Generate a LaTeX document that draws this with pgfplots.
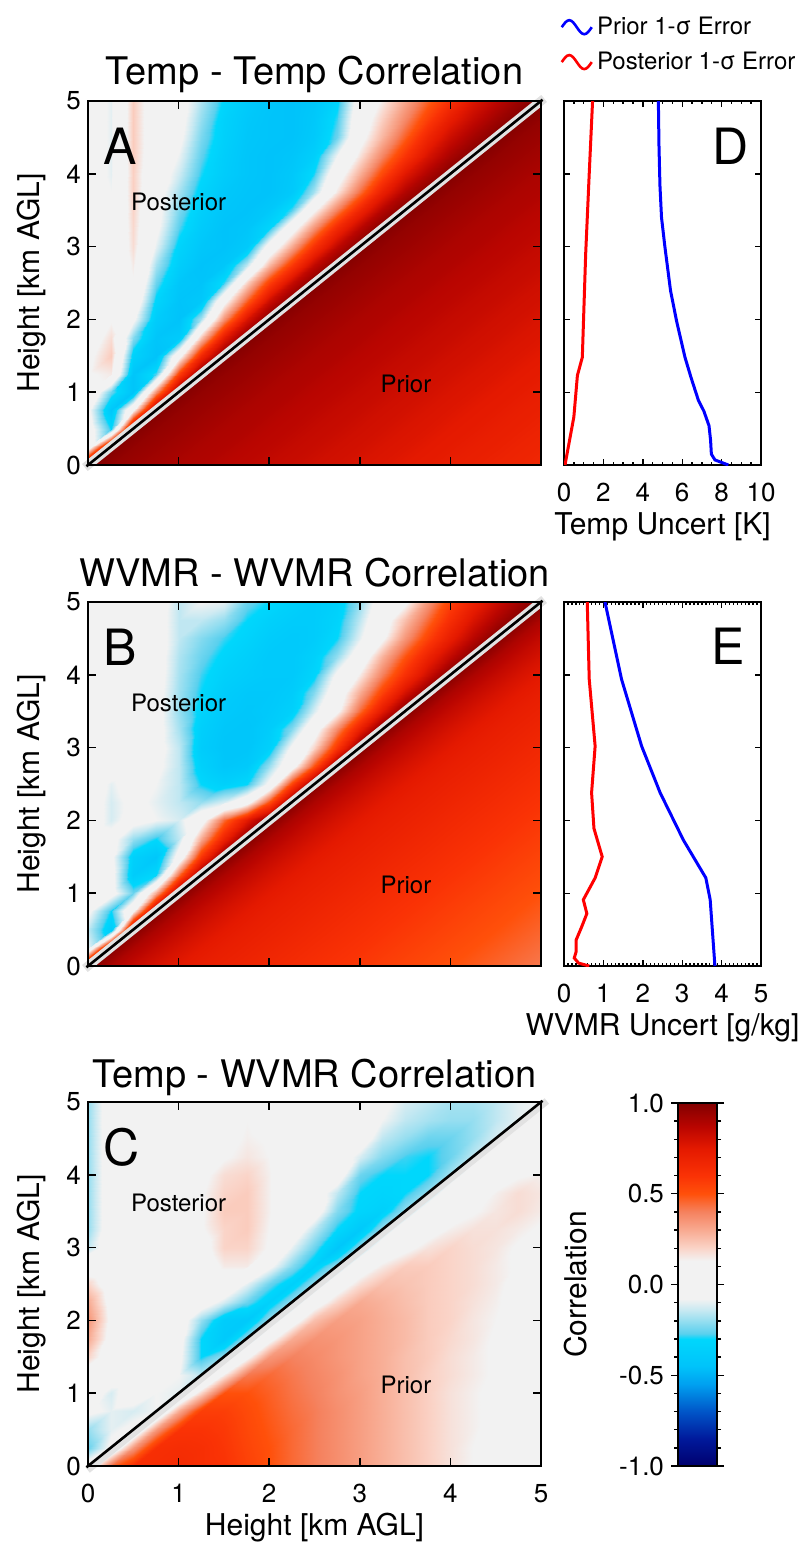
\documentclass[border=0pt]{standalone}
\usepackage{fontspec}
\setmainfont{TeX Gyre Heros}
\usepackage{pgfplots}
\usepackage{pgfplotstable}
\pgfplotsset{compat=1.18}
\definecolor{diaggray}{RGB}{226,226,226}
\tikzset{
  lab/.style={font=\fontsize{12}{14}\selectfont},
  letter/.style={font=\fontsize{25}{30}\selectfont},
}
\pgfplotsset{
  colormap={corr}{
    rgb255(0cm)=(0,0,110);
    rgb255(1.5cm)=(0,25,155);
    rgb255(3cm)=(0,85,200);
    rgb255(4.5cm)=(0,160,240);
    rgb255(5.5cm)=(0,195,250);
    rgb255(7cm)=(0,215,252);
    rgb255(7.3cm)=(90,208,238);
    rgb255(8cm)=(150,222,240);
    rgb255(8.6cm)=(200,233,242);
    rgb255(9.2cm)=(242,242,242);
    rgb255(11.3cm)=(242,242,242);
    rgb255(12cm)=(250,212,200);
    rgb255(13cm)=(248,170,145);
    rgb255(14cm)=(245,130,95);
    rgb255(15cm)=(255,80,10);
    rgb255(16cm)=(250,50,5);
    rgb255(17.5cm)=(228,25,0);
    rgb255(18.7cm)=(185,5,0);
    rgb255(20cm)=(130,0,0)
  },
  heat/.style={
    scale only axis, width=226.5pt, height=182pt, anchor=south west,
    xmin=0, xmax=5, ymin=0, ymax=5,
    xtick={0,...,5}, ytick={0,...,5},
    tick align=inside, tick pos=both, major tick length=4pt,
    every tick/.style={black, line width=0.8pt},
    axis line style={line width=1pt},
    colormap name=corr, point meta min=-1, point meta max=1,
    axis on top, clip=false,
    /pgf/number format/assume math mode=true,
    tick label style={font=\fontsize{13}{15}\selectfont},
    xticklabel style={yshift=-5.5pt},
    ylabel={Height [km AGL]},
    ylabel style={font=\fontsize{15}{18}\selectfont, at={([xshift=-28pt]axis description cs:0,0.5)}, anchor=center},
  },
  prof/.style={
    scale only axis, width=98.5pt, height=182pt, anchor=south west,
    ymin=0, ymax=5, ytick={1,2,3,4}, yticklabels={},
    tick align=inside, tick pos=both, major tick length=3pt, minor tick length=1.6pt,
    every tick/.style={black, line width=0.7pt},
    axis line style={line width=1pt},
    /pgf/number format/assume math mode=true,
    tick label style={font=\fontsize{13}{15}\selectfont},
    xticklabel style={yshift=-5.5pt},
    xlabel style={font=\fontsize{15}{18}\selectfont, at={([yshift=-31pt]axis description cs:0.5,0)}, anchor=center},
  },
  mapplot/.style={surf, shader=interp, mesh/rows=21, mesh/cols=21, point meta=explicit},
}

\pgfplotstableread[row sep=\\]{
x y c\\
0 5 0\\ 0.25 5 -0.1\\ 0.5 5 0.22\\ 0.75 5 0.03\\ 1 5 -0.02\\ 1.25 5 -0.17\\ 1.5 5 -0.31\\ 1.75 5 -0.39\\ 2 5 -0.43\\ 2.25 5 -0.45\\ 2.5 5 -0.42\\ 2.75 5 -0.32\\ 3 5 0\\ 3.25 5 0.15\\ 3.5 5 0.31\\ 3.75 5 0.47\\ 4 5 0.62\\ 4.25 5 0.77\\ 4.5 5 0.86\\ 4.75 5 0.94\\ 5 5 1\\
0 4.75 0\\ 0.25 4.75 -0.1\\ 0.5 4.75 0.22\\ 0.75 4.75 0.03\\ 1 4.75 -0.03\\ 1.25 4.75 -0.2\\ 1.5 4.75 -0.34\\ 1.75 4.75 -0.41\\ 2 4.75 -0.44\\ 2.25 4.75 -0.45\\ 2.5 4.75 -0.41\\ 2.75 4.75 -0.28\\ 3 4.75 0.04\\ 3.25 4.75 0.21\\ 3.5 4.75 0.38\\ 3.75 4.75 0.56\\ 4 4.75 0.73\\ 4.25 4.75 0.84\\ 4.5 4.75 0.93\\ 4.75 4.75 1\\ 5 4.75 0.96\\
0 4.5 0\\ 0.25 4.5 -0.1\\ 0.5 4.5 0.22\\ 0.75 4.5 0.03\\ 1 4.5 -0.05\\ 1.25 4.5 -0.23\\ 1.5 4.5 -0.35\\ 1.75 4.5 -0.42\\ 2 4.5 -0.44\\ 2.25 4.5 -0.45\\ 2.5 4.5 -0.4\\ 2.75 4.5 -0.25\\ 3 4.5 0.08\\ 3.25 4.5 0.27\\ 3.5 4.5 0.47\\ 3.75 4.5 0.68\\ 4 4.5 0.82\\ 4.25 4.5 0.92\\ 4.5 4.5 1\\ 4.75 4.5 0.96\\ 5 4.5 0.94\\
0 4.25 0\\ 0.25 4.25 -0.1\\ 0.5 4.25 0.22\\ 0.75 4.25 0.02\\ 1 4.25 -0.09\\ 1.25 4.25 -0.26\\ 1.5 4.25 -0.37\\ 1.75 4.25 -0.43\\ 2 4.25 -0.45\\ 2.25 4.25 -0.43\\ 2.5 4.25 -0.36\\ 2.75 4.25 -0.08\\ 3 4.25 0.17\\ 3.25 4.25 0.39\\ 3.5 4.25 0.6\\ 3.75 4.25 0.79\\ 4 4.25 0.91\\ 4.25 4.25 1\\ 4.5 4.25 0.96\\ 4.75 4.25 0.94\\ 5 4.25 0.92\\
0 4 0\\ 0.25 4 -0.1\\ 0.5 4 0.21\\ 0.75 4 0\\ 1 4 -0.13\\ 1.25 4 -0.29\\ 1.5 4 -0.38\\ 1.75 4 -0.43\\ 2 4 -0.45\\ 2.25 4 -0.41\\ 2.5 4 -0.29\\ 2.75 4 0.05\\ 3 4 0.29\\ 3.25 4 0.53\\ 3.5 4 0.76\\ 3.75 4 0.9\\ 4 4 1\\ 4.25 4 0.96\\ 4.5 4 0.94\\ 4.75 4 0.92\\ 5 4 0.9\\
0 3.75 0\\ 0.25 3.75 -0.08\\ 0.5 3.75 0.21\\ 0.75 3.75 -0.02\\ 1 3.75 -0.18\\ 1.25 3.75 -0.33\\ 1.5 3.75 -0.41\\ 1.75 3.75 -0.44\\ 2 3.75 -0.45\\ 2.25 3.75 -0.4\\ 2.5 3.75 -0.18\\ 2.75 3.75 0.16\\ 3 3.75 0.44\\ 3.25 3.75 0.71\\ 3.5 3.75 0.89\\ 3.75 3.75 1\\ 4 3.75 0.96\\ 4.25 3.75 0.94\\ 4.5 3.75 0.92\\ 4.75 3.75 0.9\\ 5 3.75 0.89\\
0 3.5 0\\ 0.25 3.5 -0.08\\ 0.5 3.5 0.2\\ 0.75 3.5 -0.03\\ 1 3.5 -0.23\\ 1.25 3.5 -0.36\\ 1.5 3.5 -0.43\\ 1.75 3.5 -0.45\\ 2 3.5 -0.41\\ 2.25 3.5 -0.27\\ 2.5 3.5 0.11\\ 2.75 3.5 0.4\\ 3 3.5 0.68\\ 3.25 3.5 0.88\\ 3.5 3.5 1\\ 3.75 3.5 0.96\\ 4 3.5 0.94\\ 4.25 3.5 0.92\\ 4.5 3.5 0.9\\ 4.75 3.5 0.89\\ 5 3.5 0.87\\
0 3.25 0\\ 0.25 3.25 -0.06\\ 0.5 3.25 0.19\\ 0.75 3.25 -0.05\\ 1 3.25 -0.27\\ 1.25 3.25 -0.39\\ 1.5 3.25 -0.45\\ 1.75 3.25 -0.43\\ 2 3.25 -0.32\\ 2.25 3.25 0.06\\ 2.5 3.25 0.36\\ 2.75 3.25 0.66\\ 3 3.25 0.87\\ 3.25 3.25 1\\ 3.5 3.25 0.96\\ 3.75 3.25 0.94\\ 4 3.25 0.92\\ 4.25 3.25 0.9\\ 4.5 3.25 0.89\\ 4.75 3.25 0.87\\ 5 3.25 0.86\\
0 3 0\\ 0.25 3 -0.05\\ 0.5 3 0.18\\ 0.75 3 -0.1\\ 1 3 -0.33\\ 1.25 3 -0.42\\ 1.5 3 -0.45\\ 1.75 3 -0.4\\ 2 3 0\\ 2.25 3 0.31\\ 2.5 3 0.62\\ 2.75 3 0.86\\ 3 3 1\\ 3.25 3 0.96\\ 3.5 3 0.94\\ 3.75 3 0.92\\ 4 3 0.9\\ 4.25 3 0.89\\ 4.5 3 0.87\\ 4.75 3 0.86\\ 5 3 0.84\\
0 2.75 0\\ 0.25 2.75 -0.04\\ 0.5 2.75 0.15\\ 0.75 2.75 -0.18\\ 1 2.75 -0.37\\ 1.25 2.75 -0.45\\ 1.5 2.75 -0.42\\ 1.75 2.75 -0.15\\ 2 2.75 0.26\\ 2.25 2.75 0.58\\ 2.5 2.75 0.85\\ 2.75 2.75 1\\ 3 2.75 0.96\\ 3.25 2.75 0.94\\ 3.5 2.75 0.92\\ 3.75 2.75 0.9\\ 4 2.75 0.89\\ 4.25 2.75 0.87\\ 4.5 2.75 0.86\\ 4.75 2.75 0.84\\ 5 2.75 0.83\\
0 2.5 0\\ 0.25 2.5 0\\ 0.5 2.5 0.12\\ 0.75 2.5 -0.25\\ 1 2.5 -0.42\\ 1.25 2.5 -0.44\\ 1.5 2.5 -0.28\\ 1.75 2.5 0.21\\ 2 2.5 0.56\\ 2.25 2.5 0.84\\ 2.5 2.5 1\\ 2.75 2.5 0.96\\ 3 2.5 0.94\\ 3.25 2.5 0.92\\ 3.5 2.5 0.9\\ 3.75 2.5 0.89\\ 4 2.5 0.87\\ 4.25 2.5 0.86\\ 4.5 2.5 0.84\\ 4.75 2.5 0.83\\ 5 2.5 0.81\\
0 2.25 0\\ 0.25 2.25 0.08\\ 0.5 2.25 0.05\\ 0.75 2.25 -0.32\\ 1 2.25 -0.44\\ 1.25 2.25 -0.41\\ 1.5 2.25 0.08\\ 1.75 2.25 0.47\\ 2 2.25 0.82\\ 2.25 2.25 1\\ 2.5 2.25 0.96\\ 2.75 2.25 0.94\\ 3 2.25 0.92\\ 3.25 2.25 0.9\\ 3.5 2.25 0.89\\ 3.75 2.25 0.87\\ 4 2.25 0.86\\ 4.25 2.25 0.84\\ 4.5 2.25 0.83\\ 4.75 2.25 0.81\\ 5 2.25 0.8\\
0 2 0.05\\ 0.25 2 0.12\\ 0.5 2 -0.05\\ 0.75 2 -0.38\\ 1 2 -0.45\\ 1.25 2 -0.18\\ 1.5 2 0.36\\ 1.75 2 0.78\\ 2 2 1\\ 2.25 2 0.96\\ 2.5 2 0.94\\ 2.75 2 0.92\\ 3 2 0.9\\ 3.25 2 0.89\\ 3.5 2 0.87\\ 3.75 2 0.86\\ 4 2 0.84\\ 4.25 2 0.83\\ 4.5 2 0.81\\ 4.75 2 0.8\\ 5 2 0.78\\
0 1.75 0.05\\ 0.25 1.75 0.18\\ 0.5 1.75 -0.22\\ 0.75 1.75 -0.43\\ 1 1.75 -0.39\\ 1.25 1.75 0.24\\ 1.5 1.75 0.75\\ 1.75 1.75 1\\ 2 1.75 0.96\\ 2.25 1.75 0.94\\ 2.5 1.75 0.92\\ 2.75 1.75 0.9\\ 3 1.75 0.89\\ 3.25 1.75 0.87\\ 3.5 1.75 0.86\\ 3.75 1.75 0.84\\ 4 1.75 0.83\\ 4.25 1.75 0.81\\ 4.5 1.75 0.8\\ 4.75 1.75 0.78\\ 5 1.75 0.77\\
0 1.5 0.1\\ 0.25 1.5 0.22\\ 0.5 1.5 -0.34\\ 0.75 1.5 -0.45\\ 1 1.5 0.07\\ 1.25 1.5 0.67\\ 1.5 1.5 1\\ 1.75 1.5 0.96\\ 2 1.5 0.94\\ 2.25 1.5 0.92\\ 2.5 1.5 0.9\\ 2.75 1.5 0.89\\ 3 1.5 0.87\\ 3.25 1.5 0.86\\ 3.5 1.5 0.84\\ 3.75 1.5 0.83\\ 4 1.5 0.81\\ 4.25 1.5 0.8\\ 4.5 1.5 0.78\\ 4.75 1.5 0.77\\ 5 1.5 0.75\\
0 1.25 0.12\\ 0.25 1.25 0.15\\ 0.5 1.25 -0.43\\ 0.75 1.25 -0.27\\ 1 1.25 0.56\\ 1.25 1.25 1\\ 1.5 1.25 0.96\\ 1.75 1.25 0.94\\ 2 1.25 0.92\\ 2.25 1.25 0.9\\ 2.5 1.25 0.89\\ 2.75 1.25 0.87\\ 3 1.25 0.86\\ 3.25 1.25 0.84\\ 3.5 1.25 0.83\\ 3.75 1.25 0.81\\ 4 1.25 0.8\\ 4.25 1.25 0.78\\ 4.5 1.25 0.77\\ 4.75 1.25 0.75\\ 5 1.25 0.74\\
0 1 0.1\\ 0.25 1 -0.25\\ 0.5 1 -0.44\\ 0.75 1 0.36\\ 1 1 1\\ 1.25 1 0.96\\ 1.5 1 0.94\\ 1.75 1 0.92\\ 2 1 0.9\\ 2.25 1 0.89\\ 2.5 1 0.87\\ 2.75 1 0.86\\ 3 1 0.84\\ 3.25 1 0.83\\ 3.5 1 0.81\\ 3.75 1 0.8\\ 4 1 0.78\\ 4.25 1 0.77\\ 4.5 1 0.75\\ 4.75 1 0.74\\ 5 1 0.72\\
0 0.75 -0.05\\ 0.25 0.75 -0.42\\ 0.5 0.75 0.1\\ 0.75 0.75 1\\ 1 0.75 0.96\\ 1.25 0.75 0.94\\ 1.5 0.75 0.92\\ 1.75 0.75 0.9\\ 2 0.75 0.89\\ 2.25 0.75 0.87\\ 2.5 0.75 0.86\\ 2.75 0.75 0.84\\ 3 0.75 0.83\\ 3.25 0.75 0.81\\ 3.5 0.75 0.8\\ 3.75 0.75 0.78\\ 4 0.75 0.77\\ 4.25 0.75 0.75\\ 4.5 0.75 0.74\\ 4.75 0.75 0.72\\ 5 0.75 0.71\\
0 0.5 0\\ 0.25 0.5 -0.3\\ 0.5 0.5 1\\ 0.75 0.5 0.96\\ 1 0.5 0.94\\ 1.25 0.5 0.92\\ 1.5 0.5 0.9\\ 1.75 0.5 0.89\\ 2 0.5 0.87\\ 2.25 0.5 0.86\\ 2.5 0.5 0.84\\ 2.75 0.5 0.83\\ 3 0.5 0.81\\ 3.25 0.5 0.8\\ 3.5 0.5 0.78\\ 3.75 0.5 0.77\\ 4 0.5 0.75\\ 4.25 0.5 0.74\\ 4.5 0.5 0.72\\ 4.75 0.5 0.71\\ 5 0.5 0.69\\
0 0.25 0\\ 0.25 0.25 1\\ 0.5 0.25 0.96\\ 0.75 0.25 0.94\\ 1 0.25 0.92\\ 1.25 0.25 0.9\\ 1.5 0.25 0.89\\ 1.75 0.25 0.87\\ 2 0.25 0.86\\ 2.25 0.25 0.84\\ 2.5 0.25 0.83\\ 2.75 0.25 0.81\\ 3 0.25 0.8\\ 3.25 0.25 0.78\\ 3.5 0.25 0.77\\ 3.75 0.25 0.75\\ 4 0.25 0.74\\ 4.25 0.25 0.72\\ 4.5 0.25 0.71\\ 4.75 0.25 0.69\\ 5 0.25 0.68\\
0 0 1\\ 0.25 0 0.96\\ 0.5 0 0.94\\ 0.75 0 0.92\\ 1 0 0.9\\ 1.25 0 0.89\\ 1.5 0 0.87\\ 1.75 0 0.86\\ 2 0 0.84\\ 2.25 0 0.83\\ 2.5 0 0.81\\ 2.75 0 0.8\\ 3 0 0.78\\ 3.25 0 0.77\\ 3.5 0 0.75\\ 3.75 0 0.74\\ 4 0 0.72\\ 4.25 0 0.71\\ 4.5 0 0.69\\ 4.75 0 0.68\\ 5 0 0.66\\
}\tabA

\pgfplotstableread[row sep=\\]{
x y c\\
0 5 0\\ 0.25 5 0\\ 0.5 5 0\\ 0.75 5 0\\ 1 5 -0.15\\ 1.25 5 -0.08\\ 1.5 5 -0.1\\ 1.75 5 -0.25\\ 2 5 -0.3\\ 2.25 5 -0.35\\ 2.5 5 -0.38\\ 2.75 5 -0.35\\ 3 5 -0.2\\ 3.25 5 0\\ 3.5 5 0.1\\ 3.75 5 0.35\\ 4 5 0.55\\ 4.25 5 0.7\\ 4.5 5 0.82\\ 4.75 5 0.92\\ 5 5 1\\
0 4.75 0\\ 0.25 4.75 0\\ 0.5 4.75 0\\ 0.75 4.75 -0.02\\ 1 4.75 -0.15\\ 1.25 4.75 -0.15\\ 1.5 4.75 -0.2\\ 1.75 4.75 -0.3\\ 2 4.75 -0.35\\ 2.25 4.75 -0.38\\ 2.5 4.75 -0.38\\ 2.75 4.75 -0.33\\ 3 4.75 -0.15\\ 3.25 4.75 0.05\\ 3.5 4.75 0.25\\ 3.75 4.75 0.45\\ 4 4.75 0.63\\ 4.25 4.75 0.78\\ 4.5 4.75 0.9\\ 4.75 4.75 1\\ 5 4.75 0.9\\
0 4.5 0\\ 0.25 4.5 0\\ 0.5 4.5 0\\ 0.75 4.5 -0.02\\ 1 4.5 -0.15\\ 1.25 4.5 -0.22\\ 1.5 4.5 -0.28\\ 1.75 4.5 -0.33\\ 2 4.5 -0.38\\ 2.25 4.5 -0.4\\ 2.5 4.5 -0.38\\ 2.75 4.5 -0.3\\ 3 4.5 -0.1\\ 3.25 4.5 0.1\\ 3.5 4.5 0.35\\ 3.75 4.5 0.55\\ 4 4.5 0.72\\ 4.25 4.5 0.87\\ 4.5 4.5 1\\ 4.75 4.5 0.9\\ 5 4.5 0.84\\
0 4.25 0\\ 0.25 4.25 0\\ 0.5 4.25 0\\ 0.75 4.25 -0.02\\ 1 4.25 -0.17\\ 1.25 4.25 -0.25\\ 1.5 4.25 -0.32\\ 1.75 4.25 -0.36\\ 2 4.25 -0.4\\ 2.25 4.25 -0.4\\ 2.5 4.25 -0.35\\ 2.75 4.25 -0.2\\ 3 4.25 0.02\\ 3.25 4.25 0.28\\ 3.5 4.25 0.5\\ 3.75 4.25 0.7\\ 4 4.25 0.85\\ 4.25 4.25 1\\ 4.5 4.25 0.9\\ 4.75 4.25 0.84\\ 5 4.25 0.79\\
0 4 0\\ 0.25 4 0\\ 0.5 4 0\\ 0.75 4 -0.02\\ 1 4 -0.18\\ 1.25 4 -0.28\\ 1.5 4 -0.35\\ 1.75 4 -0.38\\ 2 4 -0.4\\ 2.25 4 -0.4\\ 2.5 4 -0.32\\ 2.75 4 -0.05\\ 3 4 0.15\\ 3.25 4 0.4\\ 3.5 4 0.62\\ 3.75 4 0.82\\ 4 4 1\\ 4.25 4 0.9\\ 4.5 4 0.84\\ 4.75 4 0.79\\ 5 4 0.75\\
0 3.75 0\\ 0.25 3.75 0\\ 0.5 3.75 0\\ 0.75 3.75 -0.03\\ 1 3.75 -0.19\\ 1.25 3.75 -0.3\\ 1.5 3.75 -0.38\\ 1.75 3.75 -0.41\\ 2 3.75 -0.41\\ 2.25 3.75 -0.38\\ 2.5 3.75 -0.22\\ 2.75 3.75 0.03\\ 3 3.75 0.3\\ 3.25 3.75 0.55\\ 3.5 3.75 0.8\\ 3.75 3.75 1\\ 4 3.75 0.9\\ 4.25 3.75 0.84\\ 4.5 3.75 0.79\\ 4.75 3.75 0.75\\ 5 3.75 0.72\\
0 3.5 0\\ 0.25 3.5 0\\ 0.5 3.5 0\\ 0.75 3.5 -0.03\\ 1 3.5 -0.2\\ 1.25 3.5 -0.33\\ 1.5 3.5 -0.4\\ 1.75 3.5 -0.42\\ 2 3.5 -0.4\\ 2.25 3.5 -0.35\\ 2.5 3.5 -0.12\\ 2.75 3.5 0.1\\ 3 3.5 0.45\\ 3.25 3.5 0.75\\ 3.5 3.5 1\\ 3.75 3.5 0.9\\ 4 3.5 0.84\\ 4.25 3.5 0.79\\ 4.5 3.5 0.75\\ 4.75 3.5 0.72\\ 5 3.5 0.7\\
0 3.25 0\\ 0.25 3.25 0\\ 0.5 3.25 0\\ 0.75 3.25 -0.03\\ 1 3.25 -0.18\\ 1.25 3.25 -0.36\\ 1.5 3.25 -0.42\\ 1.75 3.25 -0.43\\ 2 3.25 -0.38\\ 2.25 3.25 -0.22\\ 2.5 3.25 0.05\\ 2.75 3.25 0.38\\ 3 3.25 0.72\\ 3.25 3.25 1\\ 3.5 3.25 0.9\\ 3.75 3.25 0.84\\ 4 3.25 0.79\\ 4.25 3.25 0.75\\ 4.5 3.25 0.72\\ 4.75 3.25 0.7\\ 5 3.25 0.68\\
0 3 0\\ 0.25 3 0\\ 0.5 3 0\\ 0.75 3 -0.03\\ 1 3 -0.15\\ 1.25 3 -0.38\\ 1.5 3 -0.43\\ 1.75 3 -0.43\\ 2 3 -0.35\\ 2.25 3 -0.05\\ 2.5 3 0.2\\ 2.75 3 0.6\\ 3 3 1\\ 3.25 3 0.9\\ 3.5 3 0.84\\ 3.75 3 0.79\\ 4 3 0.75\\ 4.25 3 0.72\\ 4.5 3 0.7\\ 4.75 3 0.68\\ 5 3 0.66\\
0 2.75 0\\ 0.25 2.75 0\\ 0.5 2.75 0\\ 0.75 2.75 -0.05\\ 1 2.75 -0.15\\ 1.25 2.75 -0.35\\ 1.5 2.75 -0.42\\ 1.75 2.75 -0.4\\ 2 2.75 -0.2\\ 2.25 2.75 0.05\\ 2.5 2.75 0.5\\ 2.75 2.75 1\\ 3 2.75 0.9\\ 3.25 2.75 0.84\\ 3.5 2.75 0.79\\ 3.75 2.75 0.75\\ 4 2.75 0.72\\ 4.25 2.75 0.7\\ 4.5 2.75 0.68\\ 4.75 2.75 0.66\\ 5 2.75 0.64\\
0 2.5 0\\ 0.25 2.5 -0.1\\ 0.5 2.5 -0.02\\ 0.75 2.5 -0.08\\ 1 2.5 -0.15\\ 1.25 2.5 -0.3\\ 1.5 2.5 -0.35\\ 1.75 2.5 -0.3\\ 2 2.5 -0.05\\ 2.25 2.5 0.55\\ 2.5 2.5 1\\ 2.75 2.5 0.9\\ 3 2.5 0.84\\ 3.25 2.5 0.79\\ 3.5 2.5 0.75\\ 3.75 2.5 0.72\\ 4 2.5 0.7\\ 4.25 2.5 0.68\\ 4.5 2.5 0.66\\ 4.75 2.5 0.64\\ 5 2.5 0.62\\
0 2.25 0\\ 0.25 2.25 -0.12\\ 0.5 2.25 -0.05\\ 0.75 2.25 -0.1\\ 1 2.25 -0.15\\ 1.25 2.25 -0.2\\ 1.5 2.25 -0.12\\ 1.75 2.25 0.05\\ 2 2.25 0.5\\ 2.25 2.25 1\\ 2.5 2.25 0.9\\ 2.75 2.25 0.84\\ 3 2.25 0.79\\ 3.25 2.25 0.75\\ 3.5 2.25 0.72\\ 3.75 2.25 0.7\\ 4 2.25 0.68\\ 4.25 2.25 0.66\\ 4.5 2.25 0.64\\ 4.75 2.25 0.62\\ 5 2.25 0.6\\
0 2 0\\ 0.25 2 -0.12\\ 0.5 2 -0.03\\ 0.75 2 -0.08\\ 1 2 -0.12\\ 1.25 2 0.05\\ 1.5 2 0.45\\ 1.75 2 0.75\\ 2 2 1\\ 2.25 2 0.9\\ 2.5 2 0.84\\ 2.75 2 0.79\\ 3 2 0.75\\ 3.25 2 0.72\\ 3.5 2 0.7\\ 3.75 2 0.68\\ 4 2 0.66\\ 4.25 2 0.64\\ 4.5 2 0.62\\ 4.75 2 0.6\\ 5 2 0.58\\
0 1.75 0\\ 0.25 1.75 -0.03\\ 0.5 1.75 -0.2\\ 0.75 1.75 -0.3\\ 1 1.75 -0.15\\ 1.25 1.75 0.3\\ 1.5 1.75 0.7\\ 1.75 1.75 1\\ 2 1.75 0.9\\ 2.25 1.75 0.84\\ 2.5 1.75 0.79\\ 2.75 1.75 0.75\\ 3 1.75 0.72\\ 3.25 1.75 0.7\\ 3.5 1.75 0.68\\ 3.75 1.75 0.66\\ 4 1.75 0.64\\ 4.25 1.75 0.62\\ 4.5 1.75 0.6\\ 4.75 1.75 0.58\\ 5 1.75 0.56\\
0 1.5 0\\ 0.25 1.5 -0.05\\ 0.5 1.5 -0.35\\ 0.75 1.5 -0.42\\ 1 1.5 0\\ 1.25 1.5 0.6\\ 1.5 1.5 1\\ 1.75 1.5 0.9\\ 2 1.5 0.84\\ 2.25 1.5 0.79\\ 2.5 1.5 0.75\\ 2.75 1.5 0.72\\ 3 1.5 0.7\\ 3.25 1.5 0.68\\ 3.5 1.5 0.66\\ 3.75 1.5 0.64\\ 4 1.5 0.62\\ 4.25 1.5 0.6\\ 4.5 1.5 0.58\\ 4.75 1.5 0.56\\ 5 1.5 0.54\\
0 1.25 0\\ 0.25 1.25 -0.03\\ 0.5 1.25 -0.38\\ 0.75 1.25 -0.3\\ 1 1.25 0.45\\ 1.25 1.25 1\\ 1.5 1.25 0.9\\ 1.75 1.25 0.84\\ 2 1.25 0.79\\ 2.25 1.25 0.75\\ 2.5 1.25 0.72\\ 2.75 1.25 0.7\\ 3 1.25 0.68\\ 3.25 1.25 0.66\\ 3.5 1.25 0.64\\ 3.75 1.25 0.62\\ 4 1.25 0.6\\ 4.25 1.25 0.58\\ 4.5 1.25 0.56\\ 4.75 1.25 0.54\\ 5 1.25 0.52\\
0 1 0\\ 0.25 1 -0.02\\ 0.5 1 -0.25\\ 0.75 1 0.3\\ 1 1 1\\ 1.25 1 0.9\\ 1.5 1 0.84\\ 1.75 1 0.79\\ 2 1 0.75\\ 2.25 1 0.72\\ 2.5 1 0.7\\ 2.75 1 0.68\\ 3 1 0.66\\ 3.25 1 0.64\\ 3.5 1 0.62\\ 3.75 1 0.6\\ 4 1 0.58\\ 4.25 1 0.56\\ 4.5 1 0.54\\ 4.75 1 0.52\\ 5 1 0.5\\
0 0.75 -0.05\\ 0.25 0.75 -0.3\\ 0.5 0.75 0.1\\ 0.75 0.75 1\\ 1 0.75 0.9\\ 1.25 0.75 0.84\\ 1.5 0.75 0.79\\ 1.75 0.75 0.75\\ 2 0.75 0.72\\ 2.25 0.75 0.7\\ 2.5 0.75 0.68\\ 2.75 0.75 0.66\\ 3 0.75 0.64\\ 3.25 0.75 0.62\\ 3.5 0.75 0.6\\ 3.75 0.75 0.58\\ 4 0.75 0.56\\ 4.25 0.75 0.54\\ 4.5 0.75 0.52\\ 4.75 0.75 0.5\\ 5 0.75 0.48\\
0 0.5 -0.15\\ 0.25 0.5 -0.38\\ 0.5 0.5 1\\ 0.75 0.5 0.9\\ 1 0.5 0.84\\ 1.25 0.5 0.79\\ 1.5 0.5 0.75\\ 1.75 0.5 0.72\\ 2 0.5 0.7\\ 2.25 0.5 0.68\\ 2.5 0.5 0.66\\ 2.75 0.5 0.64\\ 3 0.5 0.62\\ 3.25 0.5 0.6\\ 3.5 0.5 0.58\\ 3.75 0.5 0.56\\ 4 0.5 0.54\\ 4.25 0.5 0.52\\ 4.5 0.5 0.5\\ 4.75 0.5 0.48\\ 5 0.5 0.46\\
0 0.25 -0.1\\ 0.25 0.25 1\\ 0.5 0.25 0.9\\ 0.75 0.25 0.84\\ 1 0.25 0.79\\ 1.25 0.25 0.75\\ 1.5 0.25 0.72\\ 1.75 0.25 0.7\\ 2 0.25 0.68\\ 2.25 0.25 0.66\\ 2.5 0.25 0.64\\ 2.75 0.25 0.62\\ 3 0.25 0.6\\ 3.25 0.25 0.58\\ 3.5 0.25 0.56\\ 3.75 0.25 0.54\\ 4 0.25 0.52\\ 4.25 0.25 0.5\\ 4.5 0.25 0.48\\ 4.75 0.25 0.46\\ 5 0.25 0.44\\
0 0 1\\ 0.25 0 0.9\\ 0.5 0 0.84\\ 0.75 0 0.79\\ 1 0 0.75\\ 1.25 0 0.72\\ 1.5 0 0.7\\ 1.75 0 0.68\\ 2 0 0.66\\ 2.25 0 0.64\\ 2.5 0 0.62\\ 2.75 0 0.6\\ 3 0 0.58\\ 3.25 0 0.56\\ 3.5 0 0.54\\ 3.75 0 0.52\\ 4 0 0.5\\ 4.25 0 0.48\\ 4.5 0 0.46\\ 4.75 0 0.44\\ 5 0 0.42\\
}\tabB

\pgfplotstableread[row sep=\\]{
x y c\\
0 5 -0.2\\ 0.25 5 0\\ 0.5 5 0\\ 0.75 5 0\\ 1 5 0\\ 1.25 5 0.02\\ 1.5 5 0.05\\ 1.75 5 0.1\\ 2 5 0.1\\ 2.25 5 0.02\\ 2.5 5 0\\ 2.75 5 0\\ 3 5 0\\ 3.25 5 -0.05\\ 3.5 5 -0.12\\ 3.75 5 -0.15\\ 4 5 -0.18\\ 4.25 5 -0.18\\ 4.5 5 -0.15\\ 4.75 5 -0.1\\ 5 5 -0.08\\
0 4.75 -0.2\\ 0.25 4.75 0\\ 0.5 4.75 0\\ 0.75 4.75 0\\ 1 4.75 0\\ 1.25 4.75 0.03\\ 1.5 4.75 0.08\\ 1.75 4.75 0.13\\ 2 4.75 0.1\\ 2.25 4.75 0.02\\ 2.5 4.75 0\\ 2.75 4.75 0\\ 3 4.75 0\\ 3.25 4.75 -0.08\\ 3.5 4.75 -0.15\\ 3.75 4.75 -0.18\\ 4 4.75 -0.2\\ 4.25 4.75 -0.2\\ 4.5 4.75 -0.15\\ 4.75 4.75 -0.1\\ 5 4.75 0.05\\
0 4.5 -0.2\\ 0.25 4.5 0\\ 0.5 4.5 0\\ 0.75 4.5 0\\ 1 4.5 0\\ 1.25 4.5 0.05\\ 1.5 4.5 0.1\\ 1.75 4.5 0.14\\ 2 4.5 0.12\\ 2.25 4.5 0.03\\ 2.5 4.5 0\\ 2.75 4.5 0\\ 3 4.5 0\\ 3.25 4.5 -0.15\\ 3.5 4.5 -0.2\\ 3.75 4.5 -0.25\\ 4 4.5 -0.25\\ 4.25 4.5 -0.2\\ 4.5 4.5 -0.12\\ 4.75 4.5 0.03\\ 5 4.5 0.06\\
0 4.25 -0.2\\ 0.25 4.25 0\\ 0.5 4.25 0\\ 0.75 4.25 0\\ 1 4.25 0\\ 1.25 4.25 0.08\\ 1.5 4.25 0.12\\ 1.75 4.25 0.16\\ 2 4.25 0.13\\ 2.25 4.25 0.03\\ 2.5 4.25 0\\ 2.75 4.25 0\\ 3 4.25 -0.12\\ 3.25 4.25 -0.22\\ 3.5 4.25 -0.28\\ 3.75 4.25 -0.3\\ 4 4.25 -0.25\\ 4.25 4.25 -0.15\\ 4.5 4.25 0.03\\ 4.75 4.25 0.06\\ 5 4.25 0.1\\
0 4 -0.2\\ 0.25 4 0\\ 0.5 4 0\\ 0.75 4 0\\ 1 4 0\\ 1.25 4 0.1\\ 1.5 4 0.18\\ 1.75 4 0.2\\ 2 4 0.14\\ 2.25 4 0.03\\ 2.5 4 0\\ 2.75 4 0\\ 3 4 -0.25\\ 3.25 4 -0.3\\ 3.5 4 -0.3\\ 3.75 4 -0.3\\ 4 4 -0.18\\ 4.25 4 0.03\\ 4.5 4 0.06\\ 4.75 4 0.12\\ 5 4 0.14\\
0 3.75 -0.2\\ 0.25 3.75 0\\ 0.5 3.75 0\\ 0.75 3.75 0\\ 1 3.75 0\\ 1.25 3.75 0.12\\ 1.5 3.75 0.2\\ 1.75 3.75 0.22\\ 2 3.75 0.14\\ 2.25 3.75 0.02\\ 2.5 3.75 0\\ 2.75 3.75 -0.15\\ 3 3.75 -0.3\\ 3.25 3.75 -0.32\\ 3.5 3.75 -0.3\\ 3.75 3.75 -0.2\\ 4 3.75 0.03\\ 4.25 3.75 0.06\\ 4.5 3.75 0.14\\ 4.75 3.75 0.18\\ 5 3.75 0.16\\
0 3.5 -0.2\\ 0.25 3.5 0\\ 0.5 3.5 0\\ 0.75 3.5 0\\ 1 3.5 0\\ 1.25 3.5 0.12\\ 1.5 3.5 0.22\\ 1.75 3.5 0.22\\ 2 3.5 0.14\\ 2.25 3.5 0.02\\ 2.5 3.5 0\\ 2.75 3.5 -0.22\\ 3 3.5 -0.32\\ 3.25 3.5 -0.35\\ 3.5 3.5 -0.2\\ 3.75 3.5 0.03\\ 4 3.5 0.06\\ 4.25 3.5 0.12\\ 4.5 3.5 0.16\\ 4.75 3.5 0.18\\ 5 3.5 0.15\\
0 3.25 -0.2\\ 0.25 3.25 0\\ 0.5 3.25 0\\ 0.75 3.25 0\\ 1 3.25 0\\ 1.25 3.25 0.12\\ 1.5 3.25 0.2\\ 1.75 3.25 0.22\\ 2 3.25 0.13\\ 2.25 3.25 0.02\\ 2.5 3.25 -0.15\\ 2.75 3.25 -0.3\\ 3 3.25 -0.4\\ 3.25 3.25 -0.2\\ 3.5 3.25 0.03\\ 3.75 3.25 0.08\\ 4 3.25 0.14\\ 4.25 3.25 0.17\\ 4.5 3.25 0.17\\ 4.75 3.25 0.15\\ 5 3.25 0.12\\
0 3 -0.15\\ 0.25 3 0\\ 0.5 3 0\\ 0.75 3 0\\ 1 3 0\\ 1.25 3 0.08\\ 1.5 3 0.2\\ 1.75 3 0.2\\ 2 3 0.12\\ 2.25 3 -0.1\\ 2.5 3 -0.25\\ 2.75 3 -0.42\\ 3 3 -0.2\\ 3.25 3 0.03\\ 3.5 3 0.1\\ 3.75 3 0.17\\ 4 3 0.2\\ 4.25 3 0.18\\ 4.5 3 0.16\\ 4.75 3 0.12\\ 5 3 0.1\\
0 2.75 0.05\\ 0.25 2.75 0\\ 0.5 2.75 0\\ 0.75 2.75 0\\ 1 2.75 0\\ 1.25 2.75 0.05\\ 1.5 2.75 0.15\\ 1.75 2.75 0.15\\ 2 2.75 -0.05\\ 2.25 2.75 -0.22\\ 2.5 2.75 -0.35\\ 2.75 2.75 -0.2\\ 3 2.75 0.05\\ 3.25 2.75 0.15\\ 3.5 2.75 0.22\\ 3.75 2.75 0.22\\ 4 2.75 0.2\\ 4.25 2.75 0.18\\ 4.5 2.75 0.15\\ 4.75 2.75 0.12\\ 5 2.75 0.08\\
0 2.5 0.2\\ 0.25 2.5 0.05\\ 0.5 2.5 0\\ 0.75 2.5 0\\ 1 2.5 0\\ 1.25 2.5 0.02\\ 1.5 2.5 0.05\\ 1.75 2.5 -0.1\\ 2 2.5 -0.25\\ 2.25 2.5 -0.35\\ 2.5 2.5 -0.2\\ 2.75 2.5 0.05\\ 3 2.5 0.18\\ 3.25 2.5 0.25\\ 3.5 2.5 0.24\\ 3.75 2.5 0.22\\ 4 2.5 0.2\\ 4.25 2.5 0.18\\ 4.5 2.5 0.15\\ 4.75 2.5 0.1\\ 5 2.5 0.07\\
0 2.25 0.3\\ 0.25 2.25 0.08\\ 0.5 2.25 0\\ 0.75 2.25 0\\ 1 2.25 0\\ 1.25 2.25 0\\ 1.5 2.25 -0.12\\ 1.75 2.25 -0.25\\ 2 2.25 -0.35\\ 2.25 2.25 -0.2\\ 2.5 2.25 0.05\\ 2.75 2.25 0.2\\ 3 2.25 0.3\\ 3.25 2.25 0.28\\ 3.5 2.25 0.25\\ 3.75 2.25 0.22\\ 4 2.25 0.2\\ 4.25 2.25 0.17\\ 4.5 2.25 0.14\\ 4.75 2.25 0.1\\ 5 2.25 0.06\\
0 2 0.35\\ 0.25 2 0.1\\ 0.5 2 0\\ 0.75 2 0\\ 1 2 0\\ 1.25 2 -0.2\\ 1.5 2 -0.38\\ 1.75 2 -0.4\\ 2 2 -0.2\\ 2.25 2 0.05\\ 2.5 2 0.25\\ 2.75 2 0.33\\ 3 2 0.32\\ 3.25 2 0.29\\ 3.5 2 0.26\\ 3.75 2 0.22\\ 4 2 0.2\\ 4.25 2 0.16\\ 4.5 2 0.13\\ 4.75 2 0.09\\ 5 2 0.06\\
0 1.75 0.3\\ 0.25 1.75 0.08\\ 0.5 1.75 0\\ 0.75 1.75 0\\ 1 1.75 -0.03\\ 1.25 1.75 -0.3\\ 1.5 1.75 -0.4\\ 1.75 1.75 -0.2\\ 2 1.75 0.08\\ 2.25 1.75 0.3\\ 2.5 1.75 0.36\\ 2.75 1.75 0.35\\ 3 1.75 0.32\\ 3.25 1.75 0.29\\ 3.5 1.75 0.26\\ 3.75 1.75 0.22\\ 4 1.75 0.19\\ 4.25 1.75 0.16\\ 4.5 1.75 0.12\\ 4.75 1.75 0.08\\ 5 1.75 0.05\\
0 1.5 0.2\\ 0.25 1.5 0.05\\ 0.5 1.5 0\\ 0.75 1.5 0.1\\ 1 1.5 -0.05\\ 1.25 1.5 -0.3\\ 1.5 1.5 -0.2\\ 1.75 1.5 0.1\\ 2 1.5 0.35\\ 2.25 1.5 0.4\\ 2.5 1.5 0.38\\ 2.75 1.5 0.35\\ 3 1.5 0.32\\ 3.25 1.5 0.29\\ 3.5 1.5 0.25\\ 3.75 1.5 0.22\\ 4 1.5 0.18\\ 4.25 1.5 0.15\\ 4.5 1.5 0.12\\ 4.75 1.5 0.08\\ 5 1.5 0.05\\
0 1.25 0.05\\ 0.25 1.25 0\\ 0.5 1.25 0\\ 0.75 1.25 0.05\\ 1 1.25 -0.08\\ 1.25 1.25 -0.15\\ 1.5 1.25 0.15\\ 1.75 1.25 0.42\\ 2 1.25 0.45\\ 2.25 1.25 0.42\\ 2.5 1.25 0.39\\ 2.75 1.25 0.36\\ 3 1.25 0.32\\ 3.25 1.25 0.29\\ 3.5 1.25 0.25\\ 3.75 1.25 0.21\\ 4 1.25 0.18\\ 4.25 1.25 0.15\\ 4.5 1.25 0.12\\ 4.75 1.25 0.08\\ 5 1.25 0.05\\
0 1 0\\ 0.25 1 -0.12\\ 0.5 1 0\\ 0.75 1 -0.08\\ 1 1 -0.1\\ 1.25 1 0.2\\ 1.5 1 0.5\\ 1.75 1 0.5\\ 2 1 0.47\\ 2.25 1 0.43\\ 2.5 1 0.4\\ 2.75 1 0.36\\ 3 1 0.33\\ 3.25 1 0.29\\ 3.5 1 0.25\\ 3.75 1 0.21\\ 4 1 0.17\\ 4.25 1 0.14\\ 4.5 1 0.11\\ 4.75 1 0.07\\ 5 1 0.05\\
0 0.75 -0.05\\ 0.25 0.75 -0.1\\ 0.5 0.75 -0.12\\ 0.75 0.75 -0.08\\ 1 0.75 0.3\\ 1.25 0.75 0.56\\ 1.5 0.75 0.56\\ 1.75 0.75 0.52\\ 2 0.75 0.48\\ 2.25 0.75 0.44\\ 2.5 0.75 0.41\\ 2.75 0.75 0.37\\ 3 0.75 0.33\\ 3.25 0.75 0.29\\ 3.5 0.75 0.25\\ 3.75 0.75 0.21\\ 4 0.75 0.17\\ 4.25 0.75 0.14\\ 4.5 0.75 0.11\\ 4.75 0.75 0.07\\ 5 0.75 0.05\\
0 0.5 -0.2\\ 0.25 0.5 -0.1\\ 0.5 0.5 -0.05\\ 0.75 0.5 0.35\\ 1 0.5 0.6\\ 1.25 0.5 0.6\\ 1.5 0.5 0.58\\ 1.75 0.5 0.53\\ 2 0.5 0.49\\ 2.25 0.5 0.45\\ 2.5 0.5 0.41\\ 2.75 0.5 0.37\\ 3 0.5 0.33\\ 3.25 0.5 0.29\\ 3.5 0.5 0.25\\ 3.75 0.5 0.21\\ 4 0.5 0.17\\ 4.25 0.5 0.14\\ 4.5 0.5 0.1\\ 4.75 0.5 0.07\\ 5 0.5 0.05\\
0 0.25 -0.25\\ 0.25 0.25 -0.05\\ 0.5 0.25 0.35\\ 0.75 0.25 0.62\\ 1 0.25 0.63\\ 1.25 0.25 0.62\\ 1.5 0.25 0.59\\ 1.75 0.25 0.54\\ 2 0.25 0.5\\ 2.25 0.25 0.45\\ 2.5 0.25 0.41\\ 2.75 0.25 0.37\\ 3 0.25 0.33\\ 3.25 0.25 0.29\\ 3.5 0.25 0.25\\ 3.75 0.25 0.21\\ 4 0.25 0.17\\ 4.25 0.25 0.13\\ 4.5 0.25 0.1\\ 4.75 0.25 0.06\\ 5 0.25 0.05\\
0 0 0\\ 0.25 0 0.45\\ 0.5 0 0.62\\ 0.75 0 0.63\\ 1 0 0.64\\ 1.25 0 0.62\\ 1.5 0 0.6\\ 1.75 0 0.55\\ 2 0 0.5\\ 2.25 0 0.45\\ 2.5 0 0.41\\ 2.75 0 0.37\\ 3 0 0.33\\ 3.25 0 0.29\\ 3.5 0 0.25\\ 3.75 0 0.21\\ 4 0 0.17\\ 4.25 0 0.13\\ 4.5 0 0.1\\ 4.75 0 0.06\\ 5 0 0.05\\
}\tabC

\begin{document}
\begin{tikzpicture}
\path[use as bounding box] (0pt,0pt) rectangle (402.5pt,-773pt);

% titles
\node[anchor=base, font=\fontsize{19}{22}\selectfont] at (157.25pt,-42.5pt) {Temp - Temp Correlation};
\node[anchor=base, font=\fontsize{19}{22}\selectfont] at (157.25pt,-293pt) {WVMR - WVMR Correlation};
\node[anchor=base, font=\fontsize{19}{22}\selectfont] at (157.25pt,-543.5pt) {Temp - WVMR Correlation};

% Panel A
\begin{axis}[heat, at={(44pt,-232.5pt)}, xticklabels={}]
\addplot[mapplot] table[x=x, y=y, meta=c] {\tabA};
\addplot[diaggray, line width=4.5pt, shorten <=-2pt, shorten >=-2pt] coordinates {(0,0) (5,5)};
\addplot[black, line width=1.3pt, shorten <=-1pt, shorten >=-1pt] coordinates {(0,0) (5,5)};
\node[letter] at (axis cs:0.35,4.38) {A};
\node[lab] at (axis cs:1.0,3.61) {Posterior};
\node[lab] at (axis cs:3.51,1.11) {Prior};
\end{axis}

% Panel B
\begin{axis}[heat, at={(44pt,-483pt)}, xticklabels={}]
\addplot[mapplot] table[x=x, y=y, meta=c] {\tabB};
\addplot[diaggray, line width=4.5pt, shorten <=-2pt, shorten >=-2pt] coordinates {(0,0) (5,5)};
\addplot[black, line width=1.3pt, shorten <=-1pt, shorten >=-1pt] coordinates {(0,0) (5,5)};
\node[letter] at (axis cs:0.35,4.38) {B};
\node[lab] at (axis cs:1.0,3.61) {Posterior};
\node[lab] at (axis cs:3.51,1.11) {Prior};
\end{axis}

% Panel C
\begin{axis}[heat, at={(44pt,-733pt)}, xlabel={Height [km AGL]},
  xlabel style={font=\fontsize{15}{18}\selectfont, at={([yshift=-31pt]axis description cs:0.5,0)}, anchor=center}]
\addplot[mapplot] table[x=x, y=y, meta=c] {\tabC};
\addplot[diaggray, line width=3.5pt, shorten <=-2pt, shorten >=-2pt] coordinates {(0.03,-0.02) (5.03,4.98)};
\addplot[black, line width=1.3pt, shorten <=-1pt, shorten >=-1pt] coordinates {(0,0) (5,5)};
\node[letter] at (axis cs:0.37,4.38) {C};
\node[lab] at (axis cs:1.0,3.61) {Posterior};
\node[lab] at (axis cs:3.51,1.11) {Prior};
\end{axis}

% Panel D
\begin{axis}[prof, at={(282pt,-232.5pt)}, xmin=0, xmax=10, xtick={0,2,...,10}, minor x tick num=3,
  xlabel={Temp Uncert [K]},
  legend style={at={(axis description cs:-0.02,1.243)}, anchor=north west, draw=none, fill=none,
    font=\fontsize{12}{14}\selectfont, row sep=3.2pt, inner sep=0pt},
  legend cell align=left,
  legend image code/.code={\draw[#1, line width=1.3pt] (0pt,0pt) sin (3.75pt,3.5pt) cos (7.5pt,0pt) sin (11.25pt,-3.5pt) cos (15pt,0pt);}]
\addplot[blue, line width=1.5pt] coordinates {(8.34,0) (7.66,0.07) (7.48,0.15) (7.44,0.34) (7.36,0.54) (7.10,0.74) (6.82,0.89) (6.45,1.2) (6.14,1.48) (5.72,1.97) (5.41,2.39) (5.12,3.0) (4.95,3.4) (4.87,3.84) (4.82,4.4) (4.79,5.0)};
\addlegendentry{Prior 1-σ Error}
\addplot[red, line width=1.5pt] coordinates {(0.05,0) (0.5,0.66) (0.68,1.23) (0.93,1.48) (1.10,2.9) (1.28,4.0) (1.45,5.0)};
\addlegendentry{Posterior 1-σ Error}
\node[letter] at (axis cs:8.43,4.38) {D};
\end{axis}

% Panel E
\begin{axis}[prof, at={(282pt,-483pt)}, xmin=0, xmax=5, xtick={0,...,5}, minor x tick num=9,
  xlabel={WVMR Uncert [g/kg]}]
\addplot[blue, line width=1.5pt] coordinates {(3.83,0) (3.71,0.91) (3.60,1.21) (3.03,1.73) (2.44,2.38) (1.97,3.02) (1.46,3.94) (1.04,5.0)};
\addplot[red, line width=1.5pt] coordinates {(0.64,0) (0.37,0.04) (0.26,0.11) (0.31,0.2) (0.31,0.36) (0.45,0.54) (0.58,0.72) (0.49,0.91) (0.79,1.21) (0.97,1.5) (0.76,1.89) (0.70,2.38) (0.79,3.02) (0.64,3.94) (0.59,5.0)};
\node[letter] at (axis cs:4.16,4.39) {E};
\end{axis}

% Colorbar
\begin{axis}[at={(339pt,-733pt)}, anchor=south west, scale only axis, width=19.5pt, height=181.5pt,
  xmin=0, xmax=1, ymin=-1, ymax=1, xtick=\empty,
  ytick={-1,-0.5,0,0.5,1}, yticklabels={-1.0,-0.5,0.0,0.5,1.0}, minor y tick num=4,
  tick align=outside, ytick pos=both, yticklabel pos=left, major tick length=3.5pt, minor tick length=2pt,
  every tick/.style={black, line width=0.7pt}, axis line style={line width=1pt},
  colormap name=corr, point meta min=-1, point meta max=1, axis on top,
  tick label style={font=\fontsize{13}{15}\selectfont},
  ylabel={Correlation},
  ylabel style={font=\fontsize{15}{18}\selectfont, at={([xshift=-51pt]axis description cs:0,0.5)}, anchor=center}]
\addplot[surf, shader=interp, point meta=y, mesh/rows=2, mesh/cols=2] coordinates {(0,-1) (1,-1) (0,1) (1,1)};
\end{axis}
\end{tikzpicture}
\end{document}
